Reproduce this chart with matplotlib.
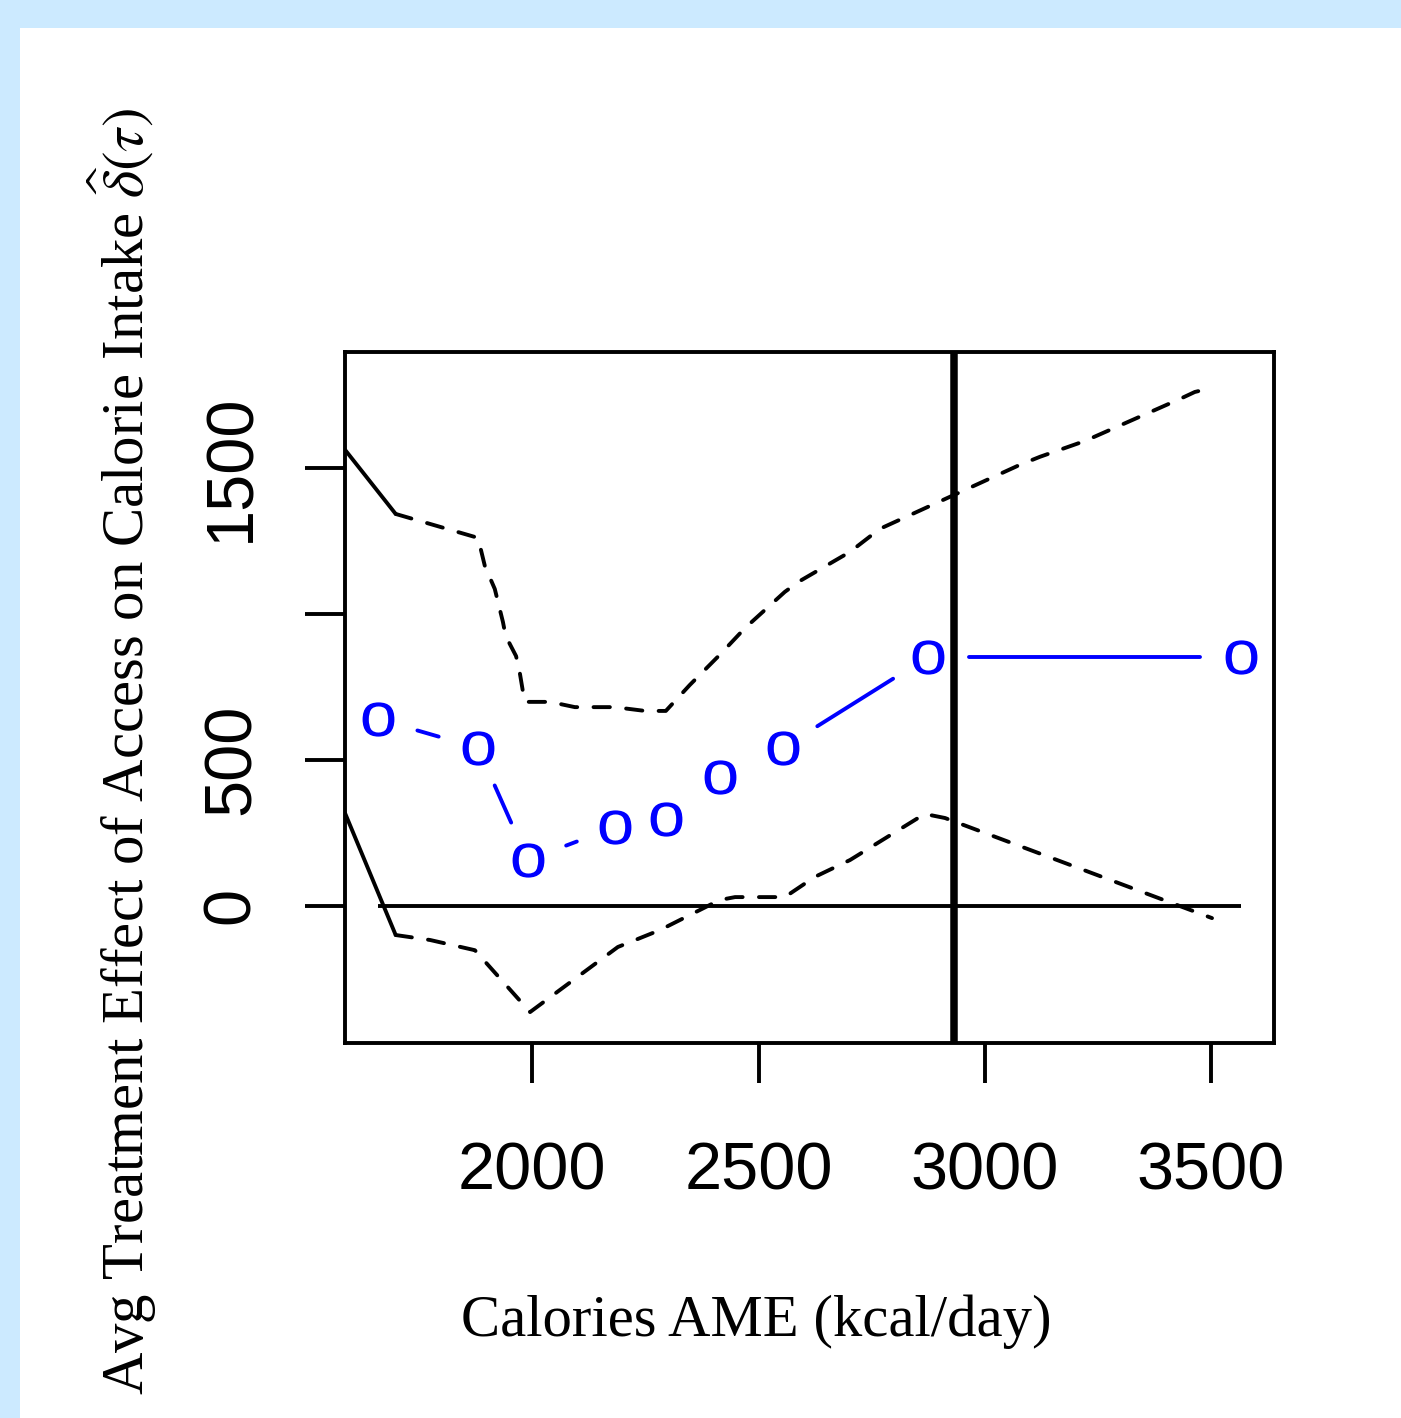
import matplotlib.pyplot as plt
from matplotlib.patches import Rectangle
from matplotlib.textpath import TextPath
from matplotlib.font_manager import FontProperties
from matplotlib.transforms import Affine2D
import numpy as np

plt.rcParams['mathtext.fontset'] = 'stix'

# point estimates (blue "o")
cal = [1659, 1880, 1990, 2183, 2295, 2414, 2553, 2874, 3566]
effect = [639, 540, 156, 269, 297, 441, 540, 852, 852]

# confidence band
upper_x = [1586, 1698, 1880, 1895, 1917, 1935, 1941, 1964, 1972, 1983, 2039, 2094, 2182,
           2249, 2295, 2348, 2414, 2470, 2558, 2591, 2702, 2768, 3077, 3122, 3221, 3431,
           3464, 3502]
upper_y = [1562, 1342, 1260, 1164, 1085, 972, 924, 855, 800, 698, 698, 680, 680,
           667, 667, 756, 859, 951, 1075, 1112, 1212, 1291, 1510, 1538, 1592, 1736,
           1760, 1774]
lower_x = [1586, 1698, 1774, 1873, 1995, 2189, 2282, 2414, 2448, 2558, 2624, 2702, 2867,
           2912, 3502]
lower_y = [317, -101, -118, -153, -365, -142, -84, 19, 29, 29, 98, 156, 314,
           300, -43]
cutoff = 2932

xticks = [2000, 2500, 3000, 3500]
yticks = [0, 500, 1000, 1500]
yticklabels = ['0', '500', '', '1500']

W, H = 1401, 1418
fig = plt.figure(figsize=(W / 100, H / 100), dpi=100, facecolor='#cceaff')
fig.patches.append(Rectangle((20 / W, 0), 1 - 20 / W, 1 - 28 / H, transform=fig.transFigure,
                             facecolor='white', edgecolor='none', zorder=-5))
ax = fig.add_axes([345 / W, 1 - 1043 / H, (1274 - 345) / W, (1043 - 352) / H], zorder=2)
ax.set_xlim(1586, 3639)
ax.set_ylim(-471, 1897)

lw = 2.8
# band: first piece solid, rest dashed
for xs, ys in [(upper_x, upper_y), (lower_x, lower_y)]:
    ax.plot(xs[:2], ys[:2], color='black', lw=lw, solid_capstyle='round')
    ax.plot(xs[1:], ys[1:], color='black', lw=lw, ls=(0, (4.2, 4.2)),
            dash_capstyle='round')

ax.plot([cal[0], cal[-1]], [0, 0], color='black', lw=lw, solid_capstyle='butt')
ax.axvline(cutoff, color='black', lw=5.4)

# R type="b": segments with gaps around the symbols
pts = ax.transData.transform(np.column_stack([cal, effect]))
gap = 41
inv = ax.transData.inverted()
for (x0, y0), (x1, y1) in zip(pts[:-1], pts[1:]):
    d = np.hypot(x1 - x0, y1 - y0)
    if d <= 2 * gap:
        continue
    ux, uy = (x1 - x0) / d, (y1 - y0) / d
    seg = inv.transform([[x0 + ux * gap, y0 + uy * gap], [x1 - ux * gap, y1 - uy * gap]])
    ax.plot(seg[:, 0], seg[:, 1], color='blue', lw=lw, solid_capstyle='round')

opath = TextPath((0, 0), 'o', size=10, prop=FontProperties(family='Liberation Sans'))
ext = opath.get_extents()
opath = opath.transformed(Affine2D().translate(-(ext.x0 + ext.x1) / 2, -(ext.y0 + ext.y1) / 2)
                          .scale(1.08, 1.0))
ax.plot(cal, effect, ls='none', marker=opath, ms=27, color='blue', mew=0)

for s in ax.spines.values():
    s.set_linewidth(lw)
ax.set_xticks(xticks)
ax.set_yticks(yticks)
ax.set_yticklabels(yticklabels, rotation=90, va='center')
ax.tick_params(length=28.8, width=lw, labelsize=48, labelfontfamily='Liberation Sans')
ax.tick_params(axis='x', pad=42)
ax.tick_params(axis='y', pad=30)

fig.text(756 / W, 1 - 1322 / H, 'Calories AME (kcal/day)', family='Liberation Serif',
         fontsize=42.3, ha='center', va='center')
fig.text(122 / W, 1 - 752 / H,
         r'Avg Treatment Effect of Access on Calorie Intake $\widehat{\delta}(\tau)$',
         family='Liberation Serif', fontsize=42.3, rotation=90, ha='center', va='center')

fig.savefig('out.png', dpi=100, facecolor=fig.get_facecolor())
